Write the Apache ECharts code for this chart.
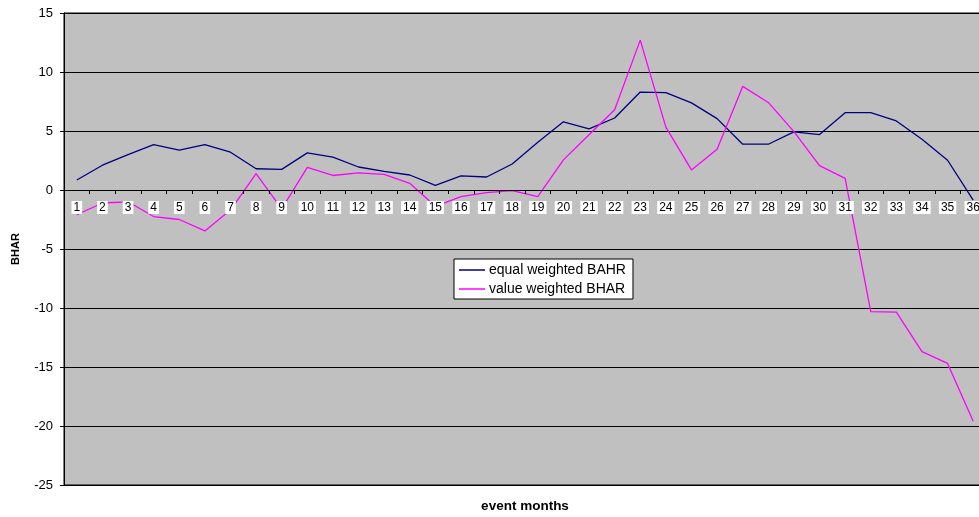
<!DOCTYPE html>
<html>
<head>
<meta charset="utf-8">
<script src="https://cdn.jsdelivr.net/npm/echarts@6/dist/echarts.min.js"></script>
<style>
  html, body { margin: 0; padding: 0; background: #fff; overflow: hidden; }
  #chart { width: 992px; height: 517px; }
</style>
</head>
<body>
<div id="chart"></div>
<script>
// Event months after the event (category axis)
const months = ['1','2','3','4','5','6','7','8','9','10','11','12','13','14','15','16','17','18',
                '19','20','21','22','23','24','25','26','27','28','29','30','31','32','33','34','35','36'];

// Buy-and-hold abnormal returns, equal weighted
const equalWeighted = [0.85, 2.1, 3.0, 3.85, 3.38, 3.85, 3.2, 1.8, 1.75, 3.15, 2.78, 1.95,
                       1.58, 1.27, 0.4, 1.2, 1.1, 2.2, 4.05, 5.78, 5.18, 6.1, 8.3, 8.25,
                       7.38, 6.05, 3.88, 3.88, 4.92, 4.7, 6.55, 6.55, 5.85, 4.3, 2.52, -0.85];

// Buy-and-hold abnormal returns, value weighted
const valueWeighted = [-2.1, -1.1, -1.0, -2.25, -2.5, -3.47, -1.7, 1.38, -1.6, 1.92, 1.23, 1.45,
                       1.33, 0.57, -1.38, -0.57, -0.23, -0.06, -0.57, 2.55, 4.68, 6.8, 12.7, 5.33,
                       1.7, 3.46, 8.78, 7.42, 4.95, 2.07, 0.99, -10.3, -10.35, -13.7, -14.7, -19.6];

const seriesNames = ['equal weighted BAHR', 'value weighted BHAR'];

// Value axis range
const yMin = -25;
const yMax = 15;
const yStep = 5;

const font = 'Liberation Sans, Arial, sans-serif';

// Plot area (runs slightly past the right edge of the window)
const plot = { left: 64, top: 13, width: 922, height: 472 };
// Lift the category axis from the bottom edge up to the zero line
const zeroOffset = -plot.height * (0 - yMin) / (yMax - yMin);

const chart = echarts.init(document.getElementById('chart'), null, { renderer: 'canvas' });

chart.setOption({
  animation: false,
  backgroundColor: '#ffffff',
  textStyle: { fontFamily: font },
  grid: {
    left: plot.left,
    top: plot.top,
    width: plot.width,
    height: plot.height,
    show: true,
    backgroundColor: '#C0C0C0',
    borderColor: '#000000',
    borderWidth: 1
  },
  legend: {
    orient: 'vertical',
    left: 454,
    top: 259,
    backgroundColor: '#ffffff',
    borderColor: '#000000',
    borderWidth: 1,
    padding: [4, 7, 3, 5],
    itemGap: 5,
    itemWidth: 26,
    itemHeight: 1.5,
    icon: 'rect',
    textStyle: { fontFamily: font, fontSize: 14, color: '#000000', padding: [1, 0, 0, -1] },
    data: seriesNames
  },
  graphic: [{
    type: 'text',
    x: 525,
    y: 499,
    style: { text: 'event months', font: 'bold 13.5px ' + font, fill: '#000000', textAlign: 'center' }
  }],
  xAxis: {
    type: 'category',
    data: months,
    boundaryGap: true,
    z: 10,
    offset: zeroOffset,
    axisLine: { onZero: false, lineStyle: { color: '#000000', width: 1 } },
    axisTick: { show: true, interval: 0, length: 4, lineStyle: { color: '#000000' } },
    axisLabel: {
      interval: 0,
      margin: 11,
      fontSize: 12,
      fontFamily: font,
      color: '#000000',
      backgroundColor: '#ffffff',
      padding: [1, 2, 0, 2]
    },
    splitLine: { show: false }
  },
  yAxis: {
    type: 'value',
    min: yMin,
    max: yMax,
    interval: yStep,
    name: 'BHAR',
    nameLocation: 'middle',
    nameRotate: 90,
    nameGap: 43,
    nameTextStyle: { fontFamily: font, fontSize: 11, fontWeight: 'bold', color: '#000000' },
    axisLine: { show: true, lineStyle: { color: '#000000' } },
    axisTick: { show: true, length: 4, lineStyle: { color: '#000000' } },
    axisLabel: { fontSize: 13, fontFamily: font, color: '#000000', margin: 11 },
    splitLine: { show: true, lineStyle: { color: '#000000', width: 1 } }
  },
  series: [
    {
      name: seriesNames[0],
      type: 'line',
      data: equalWeighted,
      symbol: 'none',
      z: 3,
      lineStyle: { color: '#000080', width: 1.3 },
      itemStyle: { color: '#000080' }
    },
    {
      name: seriesNames[1],
      type: 'line',
      data: valueWeighted,
      symbol: 'none',
      z: 3,
      lineStyle: { color: '#FF00FF', width: 1.3 },
      itemStyle: { color: '#FF00FF' }
    }
  ]
});
</script>
</body>
</html>
